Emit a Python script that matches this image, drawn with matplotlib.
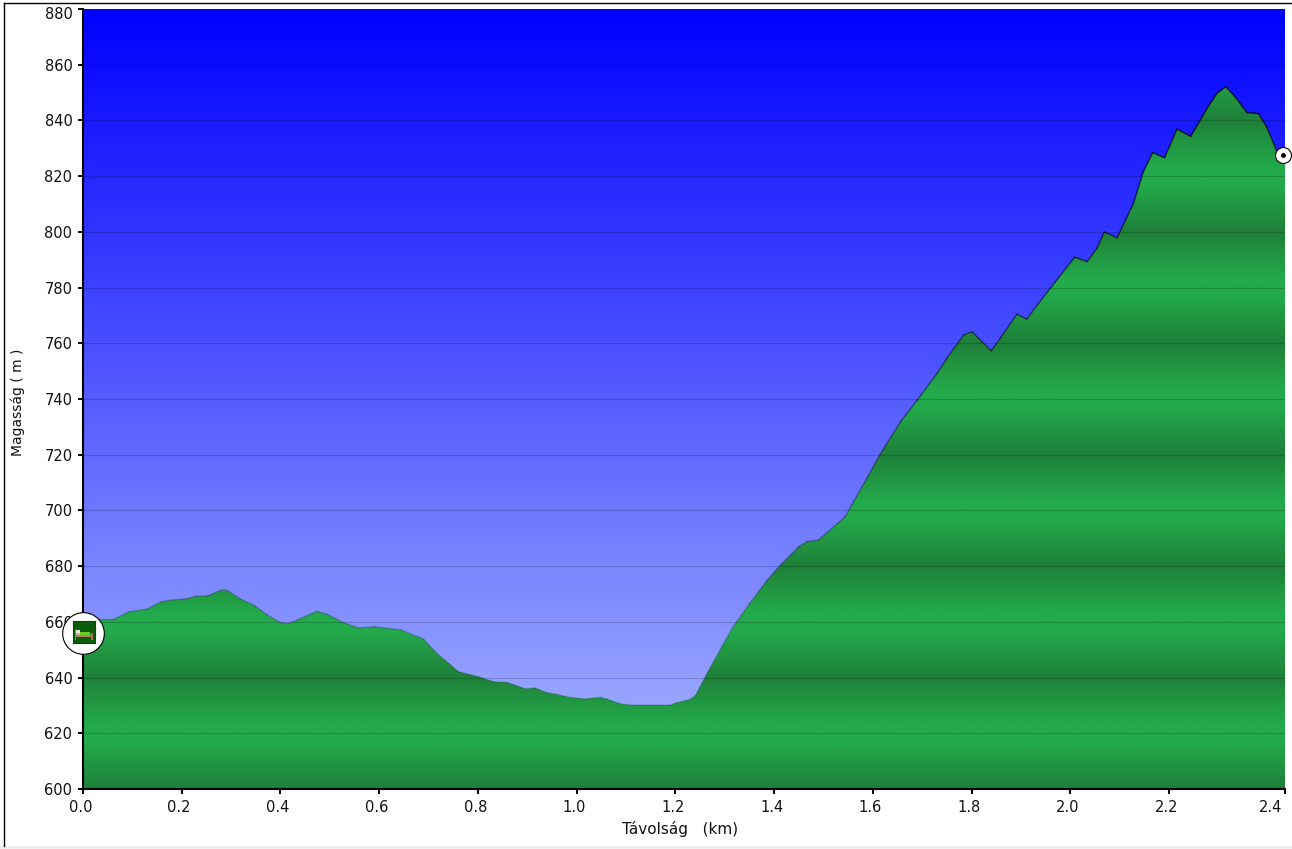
import numpy as np
import matplotlib
matplotlib.use('Agg')
import matplotlib.pyplot as plt
from matplotlib.collections import LineCollection
from matplotlib.colors import LinearSegmentedColormap
from matplotlib.lines import Line2D
from matplotlib.patches import Rectangle
from matplotlib.transforms import ScaledTranslation

# elevation profile
dist_km = [0.0, 0.062, 0.093, 0.130, 0.157, 0.177, 0.211, 0.228, 0.252, 0.278, 0.292, 0.319,
           0.349, 0.373, 0.400, 0.417, 0.434, 0.474, 0.495, 0.528, 0.559, 0.589, 0.616, 0.643,
           0.690, 0.717, 0.741, 0.761, 0.802, 0.832, 0.859, 0.896, 0.916, 0.940, 0.960, 0.987,
           1.018, 1.048, 1.062, 1.089, 1.109, 1.190, 1.203, 1.230, 1.241, 1.264, 1.291, 1.315,
           1.350, 1.386, 1.413, 1.450, 1.467, 1.490, 1.544, 1.561, 1.588, 1.615, 1.656, 1.690,
           1.730, 1.750, 1.784, 1.801, 1.821, 1.840, 1.858, 1.892, 1.912, 1.933, 1.970, 2.009,
           2.034, 2.054, 2.069, 2.095, 2.128, 2.148, 2.167, 2.191, 2.216, 2.244, 2.277, 2.297,
           2.315, 2.334, 2.358, 2.381, 2.398, 2.419, 2.435]
elev_m = [660.7, 660.9, 663.6, 664.6, 667.1, 667.8, 668.3, 669.2, 669.3, 671.3, 671.3, 668.2,
          665.7, 662.5, 659.7, 659.5, 660.7, 663.8, 662.7, 659.7, 657.8, 658.3, 657.7, 657.2,
          653.8, 648.7, 645.1, 642.1, 640.3, 638.5, 638.3, 636.0, 636.3, 634.6, 634.0, 632.9,
          632.4, 632.9, 632.3, 630.6, 630.2, 630.2, 631.0, 632.2, 633.7, 641.5, 650.1, 657.7,
          666.5, 675.0, 680.4, 687.0, 688.8, 689.4, 697.7, 703.1, 711.5, 720.2, 731.8, 739.6,
          749.2, 754.6, 763.0, 764.1, 760.6, 757.3, 761.8, 770.4, 768.7, 773.7, 782.1, 790.9,
          789.3, 794.1, 799.9, 797.9, 810.2, 821.6, 828.5, 826.6, 836.9, 834.3, 844.3, 849.7,
          852.1, 848.5, 842.8, 842.5, 837.7, 828.7, 826.0]

x_ticks = [0.0, 0.2, 0.4, 0.6, 0.8, 1.0, 1.2, 1.4, 1.6, 1.8, 2.0, 2.2, 2.435]
x_tick_labels = ['0.0', '0.2', '0.4', '0.6', '0.8', '1.0', '1.2', '1.4', '1.6', '1.8', '2.0', '2.2', '2.4']
y_ticks = list(range(600, 881, 20))
start_marker = (0.0, 656.0)
end_marker = (2.43, 827.5)

W, H = 1292, 849
plt.rcParams['font.family'] = ['DejaVu Sans']

fig = plt.figure(figsize=(W / 100, H / 100), dpi=100, facecolor='white')
ax = fig.add_axes([83 / W, 1 - 789 / H, (1285 - 83) / W, (789 - 9) / H])
ax.set_xlim(0, x_ticks[-1])
ax.set_ylim(600, 880)
extent = [0, x_ticks[-1], 600, 880]

# sky gradient
sky_cmap = LinearSegmentedColormap.from_list('sky', ['#0000ff', '#aab9ff'])
sky = np.linspace(0, 1, 780).reshape(-1, 1)
ax.imshow(sky, cmap=sky_cmap, extent=extent, aspect='auto', vmin=0, vmax=1, zorder=1)

# banded terrain gradient, repeats every 40 m
green_cmap = LinearSegmentedColormap.from_list(
    'terrain', [(0, '#1f8039'), (0.22, '#219542'), (0.42, '#23aa4c'), (0.58, '#23aa4c'),
                (0.8, '#219542'), (1, '#1f8039')])
rows = np.linspace(880, 600, 1400)
phase = ((rows - 600) % 40) / 40
terrain = ax.imshow(phase.reshape(-1, 1), cmap=green_cmap, extent=extent, aspect='auto',
                    vmin=0, vmax=1, zorder=2)
poly = ax.fill_between(dist_km, elev_m, 600, facecolor='none', edgecolor='none', zorder=2)
terrain.set_clip_path(poly.get_paths()[0], transform=ax.transData)

# outline looks faint low down and dark near the top
pts = np.column_stack([dist_km, elev_m])
segs = np.stack([pts[:-1], pts[1:]], axis=1)
mid = (pts[:-1, 1] + pts[1:, 1]) / 2
alphas = np.clip(0.1 + (mid - 630) / 220 * 0.6, 0.1, 0.7)
line_colors = np.zeros((len(segs), 4))
line_colors[:, 3] = alphas
ax.add_collection(LineCollection(segs, colors=line_colors, linewidths=1.1, capstyle='round', zorder=3))

# grid goes over sky and terrain
for y in y_ticks[1:-1]:
    ax.axhline(y, color='black', lw=0.8, alpha=0.18, zorder=4)

ax.set_xticks(x_ticks)
ax.set_xticklabels(x_tick_labels)
ax.set_yticks(y_ticks)
ax.tick_params(axis='both', length=3.6, width=1.4, color='black', labelsize=10.5, labelcolor='#111111')
ax.tick_params(axis='x', pad=4)
ax.tick_params(axis='y', pad=4)

# tick labels sit a little off their ticks, the end ones are pulled inside
left_shift = ScaledTranslation(-2.5 / 100, 0, fig.dpi_scale_trans)
for lab in ax.get_xticklabels():
    lab.set_transform(lab.get_transform() + left_shift)
ax.get_xticklabels()[-1].set_ha('right')
top_lab = ax.get_yticklabels()[-1]
top_lab.set_transform(top_lab.get_transform() + ScaledTranslation(0, -4 / 100, fig.dpi_scale_trans))

for side in ['top', 'right']:
    ax.spines[side].set_visible(False)
for side in ['left', 'bottom']:
    ax.spines[side].set_linewidth(1.5)
    ax.spines[side].set_zorder(6)

ax.set_xlabel('Távolság   (km)', fontsize=11, color='#111111')
ax.xaxis.set_label_coords((680 - 83) / (1285 - 83), -(829 - 789) / 780, transform=ax.transAxes)
ax.xaxis.label.set_va('center')
ax.set_ylabel('Magasság ( m )', fontsize=10, color='#111111')
ax.yaxis.set_label_coords(-(83 - 18) / (1285 - 83), (789 - 402) / 780, transform=ax.transAxes)
ax.yaxis.label.set_va('center')

# start and end markers
ax.plot(*start_marker, marker='o', ms=30, mfc='white', mec='black', mew=0.8, clip_on=False, zorder=7)
ax.plot(*end_marker, marker='o', ms=11.5, mfc='white', mec='black', mew=0.8, clip_on=False, zorder=7)
ax.plot(*end_marker, marker='o', ms=2.5, color='black', clip_on=False, zorder=8)

# bed icon on the start marker
icon = fig.add_axes([72.5 / W, 1 - 643 / H, 22 / W, 22 / H], zorder=10)
icon.set_xlim(0, 22)
icon.set_ylim(22, 0)
icon.set_xticks([])
icon.set_yticks([])
icon.set_facecolor('#0a5c0a')
for s in icon.spines.values():
    s.set_color('#1a3a1a')
    s.set_linewidth(0.8)
bed_parts = [(2, 8, 1.5, 11, '#a07050'), (3.5, 9, 4, 2.5, '#e8e8e8'), (3.5, 11.5, 4, 2, '#d0b0a0'),
             (7.5, 11, 10, 3, '#66d022'), (3.5, 14, 16, 1.5, '#b08060'), (18.5, 12, 1.5, 7, '#a07050')]
for bx, by, bw, bh, bc in bed_parts:
    icon.add_patch(Rectangle((bx, by), bw, bh, facecolor=bc, edgecolor='none'))

# page frame
fig.add_artist(Line2D([3.5 / W, 3.5 / W], [1 - 846 / H, 1 - 2.5 / H], color='black', lw=1))
fig.add_artist(Line2D([3.5 / W, 1291 / W], [1 - 2.5 / H, 1 - 2.5 / H], color='black', lw=1))
fig.add_artist(Rectangle((0, 0), 1, 3 / H, transform=fig.transFigure, facecolor='#f0f0f0', edgecolor='none'))

fig.savefig('out.png', dpi=100)
